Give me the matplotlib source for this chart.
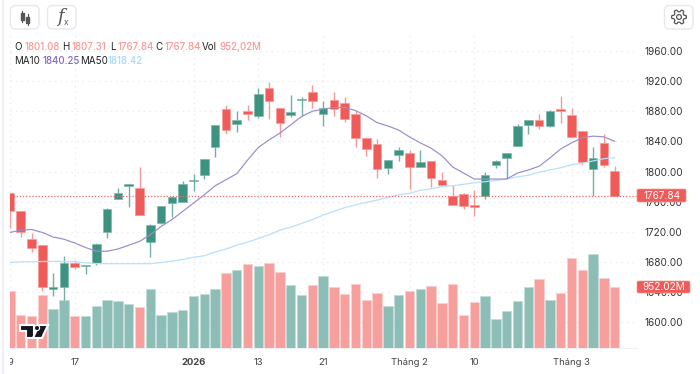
import numpy as np
import matplotlib
matplotlib.use('Agg')
import matplotlib.pyplot as plt
from matplotlib.patches import FancyBboxPatch, Rectangle, Polygon, Circle
from matplotlib.transforms import Bbox

plt.rcParams['font.family'] = ['Inter', 'DejaVu Sans']

# candles
opens = [1772, 1748, 1710, 1702, 1644, 1646, 1679, 1675, 1678, 1719, 1764, 1781, 1778.5, 1706, 1732, 1758, 1760, 1787, 1795,
         1832, 1883, 1863, 1881, 1874, 1911, 1884, 1875, 1895, 1905, 1877, 1895, 1891, 1877, 1844, 1837, 1804, 1822, 1824,
         1806, 1814, 1789, 1768, 1770, 1755, 1768, 1808, 1818, 1834, 1862, 1869, 1861, 1883, 1875.5, 1854, 1803, 1837.5, 1801.08]
highs = [1772, 1748, 1718, 1702, 1665, 1688, 1683, 1676, 1705, 1751, 1778, 1784, 1806, 1730, 1754, 1767, 1787, 1797, 1816,
         1862, 1888, 1880, 1888, 1911, 1919, 1884, 1902, 1899, 1915, 1894, 1905, 1899, 1880, 1845.5, 1843, 1815, 1832, 1829,
         1828, 1814, 1800, 1782, 1771, 1775, 1800, 1815, 1824, 1863, 1868, 1876, 1882, 1900, 1885, 1854, 1833, 1849.5, 1807.31]
lows = [1725, 1713, 1693, 1641, 1635, 1629, 1670, 1664, 1676, 1712, 1763, 1753, 1742, 1686, 1730, 1739, 1760, 1774.5, 1790,
        1819, 1850, 1853, 1868.5, 1871.5, 1870, 1846, 1873, 1874, 1884, 1860, 1874, 1866, 1833, 1821, 1792, 1797, 1814, 1777,
        1806, 1780, 1782, 1755, 1750, 1741, 1763.5, 1804, 1792, 1834, 1849.5, 1856, 1859, 1864, 1844, 1808, 1768, 1806, 1767.84]
closes = [1747, 1719, 1698, 1646, 1646, 1678, 1673, 1676, 1703, 1750, 1771, 1783, 1742, 1729, 1754, 1766, 1784, 1789, 1816,
          1862, 1855, 1868, 1877, 1903, 1894, 1864.5, 1879.5, 1897, 1894, 1885, 1883, 1870, 1844, 1830, 1803, 1815, 1829, 1806,
          1813, 1791, 1782, 1755, 1754, 1753, 1796, 1814, 1824, 1860, 1868, 1860.5, 1880, 1881, 1846, 1813, 1818, 1808, 1767.84]
volumes = [894, 520, 504, 832, 603, 754, 504, 494, 660, 754, 733, 686, 640, 920, 520, 562, 598, 806, 837,
           926, 1165, 1212, 1316, 1284, 1326, 1191, 983, 832, 988, 1118, 946, 842, 993, 754, 863, 655, 832, 884,
           920, 967, 707, 998, 520, 718, 806, 458, 577, 733, 957, 1082, 754, 858, 1404, 1212, 1466, 1087, 952.02]
ma10 = [1719, 1722, 1723, 1719, 1713, 1710, 1705, 1699, 1694, 1694, 1697, 1702, 1707, 1716, 1727, 1736, 1747, 1758, 1769,
        1781, 1789, 1797, 1815, 1832, 1842, 1851, 1862, 1873, 1880, 1883, 1885, 1885, 1881, 1874, 1865, 1860.5, 1855, 1846,
        1838, 1831, 1821, 1806, 1798, 1790, 1790, 1790, 1790, 1798, 1802, 1807, 1818, 1830, 1838, 1845, 1847, 1846, 1840.25]
ma50 = [1679, 1680, 1680, 1680.4, 1680.7, 1680.4, 1680, 1678.7, 1677.7, 1677.5, 1677.5, 1677.5, 1677.5, 1677.5, 1679, 1681,
        1683, 1686, 1688, 1693, 1697, 1702, 1706, 1711, 1716, 1722, 1726, 1731, 1736, 1742, 1747, 1752, 1755.5, 1759, 1762,
        1765.5, 1769, 1771, 1775, 1777, 1780, 1781, 1783, 1785, 1786.5, 1788, 1790, 1793, 1795, 1799, 1802, 1805, 1809, 1811,
        1814, 1817, 1818.42]

price_ticks = [1600, 1640, 1680, 1720, 1760, 1800, 1840, 1880, 1920, 1960]
date_pos = [0, 6, 17, 23, 29, 37, 43, 52]
date_labels = ['9', '17', '2026', '13', '21', 'Tháng 2', '10', 'Tháng 3']

GREEN = '#3d9280'
RED = '#ef5b59'
GREEN_WICK = '#6fb0a2'
RED_WICK = '#f59a98'
GREEN_VOL = '#8cbdb6'
RED_VOL = '#f69f9c'
GRID = '#e9ecf0'
W, H = 700, 374

x = np.arange(len(closes))
up = np.array(closes) >= np.array(opens)
last = closes[-1]

fig = plt.figure(figsize=(7, 3.74), dpi=100, facecolor='white')
left, right, top, bottom = 10, 637, 35, 348
rect = [left / W, 1 - bottom / H, (right - left) / W, (bottom - top) / H]
xlim = ((left - 9.9) / 10.8, (right - 9.9) / 10.8)
ylim = (1600 - (bottom - 322) / 0.7525, 1600 + (322 - top) / 0.7525)

# grid and tick labels at the back
ax_grid = fig.add_axes(rect, zorder=1)
ax_grid.set_xlim(xlim)
ax_grid.set_ylim(ylim)
ax_grid.grid(True, color=GRID, linestyle=(0, (1, 3)), linewidth=1)
for s in ['top', 'left', 'right']:
    ax_grid.spines[s].set_visible(False)
ax_grid.spines['bottom'].set_color('#eef0f3')
ax_grid.yaxis.tick_right()
ax_grid.set_yticks(price_ticks)
ax_grid.set_yticklabels(['%.2f' % p for p in price_ticks], fontsize=7.2, color='#333333')
ax_grid.set_xticks(date_pos)
ax_grid.set_xticklabels(date_labels, fontsize=6.8, color='#444444')
ax_grid.tick_params(axis='both', length=0)
ax_grid.tick_params(axis='x', pad=7)
ax_grid.tick_params(axis='y', pad=5.2)
ticks = ax_grid.get_xticklabels()
ticks[2].set_fontweight('bold')
# first label is cut by the left edge
ticks[0].set_clip_box(Bbox([[left, 0], [right, H]]))
ticks[0].set_clip_on(True)

# volume
ax_vol = fig.add_axes(rect, zorder=2)
ax_vol.patch.set_alpha(0)
ax_vol.set_xlim(xlim)
ax_vol.set_ylim(0, (bottom - top) * 15.6)
ax_vol.bar(x, volumes, width=0.88, color=[GREEN_VOL if u else RED_VOL for u in up],
           edgecolor=['#c3dcd7' if u else '#fbd0ce' for u in up], linewidth=0.6)
ax_vol.axis('off')

# price
ax = fig.add_axes(rect, zorder=3)
ax.patch.set_alpha(0)
ax.set_xlim(xlim)
ax.set_ylim(ylim)
ax.axis('off')
ax.vlines(x, lows, highs, colors=[GREEN_WICK if u else RED_WICK for u in up], linewidth=1, zorder=3)
ax.bar(x, np.abs(np.array(closes) - np.array(opens)), bottom=np.minimum(opens, closes), width=0.78,
       color=[GREEN if u else RED for u in up], edgecolor=['#7db8ab' if u else '#f79a98' for u in up],
       linewidth=0.5, zorder=4)
ax.plot(x, ma50, color='#b9e0fa', linewidth=0.9, zorder=5)
ax.plot(x, ma10, color='#9a8bce', linewidth=0.85, zorder=6)
ax.axhline(last, color='#ee6a68', linestyle=(0, (1, 1.5)), linewidth=0.9, zorder=6)

# overlay in pixel coordinates for the chart furniture
ov = fig.add_axes([0, 0, 1, 1], zorder=4)
ov.set_xlim(0, W)
ov.set_ylim(H, 0)
ov.axis('off')
ov.patch.set_alpha(0)
ov.plot([2.5, 2.5], [0, H], color='#eef0f7', linewidth=1.5)

for bx in (10, 47, 664):
    ov.add_patch(FancyBboxPatch((bx + 0.5, 5.5), 28.5, 23.5, boxstyle='round,pad=0,rounding_size=5',
                                facecolor='white', edgecolor='#e6e8f0', linewidth=1))

# candle icon
ov.plot([22, 22], [11, 22], color='#555555', linewidth=0.8)
ov.add_patch(Rectangle((20.5, 13), 3, 7, color='#555555'))
ov.plot([27.5, 27.5], [14, 25], color='#555555', linewidth=0.8)
ov.add_patch(Rectangle((26, 17), 3, 6, color='#555555'))
ov.text(60, 17, 'f', fontsize=13, style='italic', family='DejaVu Serif', color='#555555', ha='center', va='center')
ov.text(65.5, 22, 'x', fontsize=6, color='#555555', ha='center', va='center')

# gear icon
ang = np.linspace(0, 2 * np.pi, 97)
rad = 6.3 + 1.1 * np.tanh(3 * np.cos(6 * ang))
ov.plot(679 + rad * np.cos(ang), 17 + rad * np.sin(ang), color='#555555', linewidth=0.9)
ov.add_patch(Circle((679, 17), 2.4, fill=False, edgecolor='#555555', linewidth=0.9))

# legend rows
row1 = [(14, 'O', '#222222'), (25, '1801.08', '#f79a98'), (62, 'H', '#222222'), (72, '1807.31', '#f79a98'),
        (110, 'L', '#222222'), (118, '1767.84', '#f79a98'), (155, 'C', '#222222'), (165, '1767.84', '#f79a98'),
        (202, 'Vol', '#222222'), (219, '952,02M', '#f79a98')]
row2 = [(14, 'MA10', '#222222'), (43, '1840.25', '#7e6bc0'), (80, 'MA50', '#222222'), (108, '1818.42', '#a6d8fa')]
for row, yy in ((row1, 46.5), (row2, 61)):
    for tx, s, c in row:
        ov.text(tx, yy, s, fontsize=7, color=c, ha='left', va='center', fontweight='medium' if c != '#222222' else 'normal')

# last value tags
ov.add_patch(FancyBboxPatch((637, 189), 49, 13, boxstyle='round,pad=0,rounding_size=1.5', facecolor=RED,
                            edgecolor='#f79a98', linewidth=0.5))
ov.text(662, 195.7, '%.2f' % last, fontsize=7.2, color='white', ha='center', va='center')
ov.add_patch(FancyBboxPatch((637, 281), 53, 12, boxstyle='round,pad=0,rounding_size=1.5', facecolor=RED,
                            edgecolor='#f79a98', linewidth=0.5))
ov.text(664, 287, '%.2fM' % volumes[-1], fontsize=7.2, color='white', ha='center', va='center')

# TradingView mark
logo = [[(20, 325), (34, 325), (34, 338), (26, 338), (26, 331), (20, 331)],
        [(39, 325), (48, 325), (42, 338), (33, 338)]]
for pts in logo:
    ov.add_patch(Polygon(pts, closed=True, facecolor='#131722', edgecolor='white', linewidth=1.5))
ov.add_patch(Circle((37, 328), 2.6, facecolor='#131722', edgecolor='white', linewidth=0.8))

fig.savefig('out.png', dpi=100)
